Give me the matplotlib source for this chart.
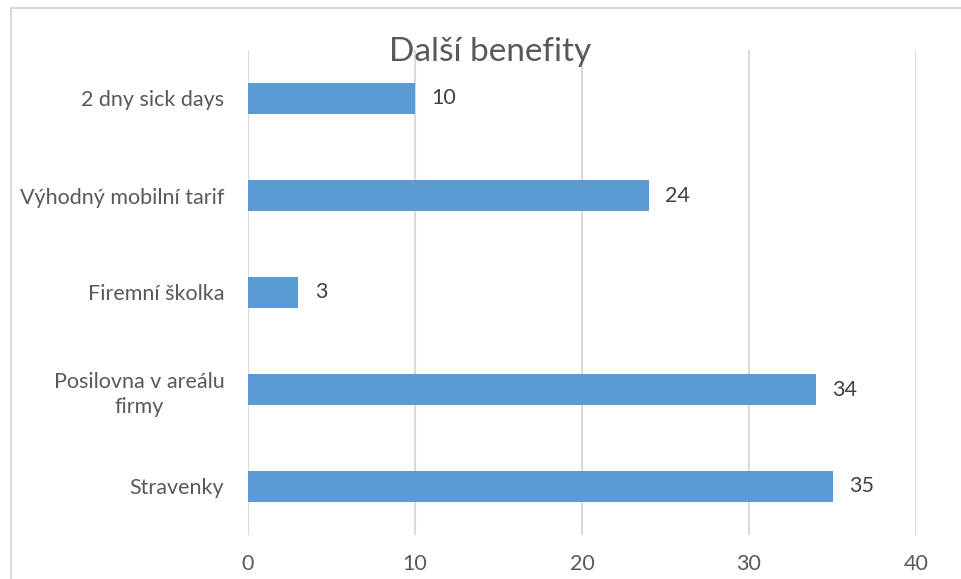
import matplotlib
matplotlib.use('Agg')
import matplotlib.pyplot as plt
from matplotlib.patches import Rectangle

categories = ['Stravenky', 'Posilovna v areálu\nfirmy', 'Firemní školka',
              'Výhodný mobilní tarif', '2 dny sick days']
values = [35, 34, 3, 24, 10]
x_ticks = [0, 10, 20, 30, 40]

text_color = '#595959'
bar_color = '#5b9bd5'
grid_color = '#d9d9d9'

plt.rcParams['font.family'] = ['Lato', 'DejaVu Sans']

fig = plt.figure(figsize=(9.61, 5.79), dpi=100)
ax = fig.add_axes([248/961, 1 - 535/579, (916 - 248)/961, (535 - 50)/579])

# outer chart border (cropped on right and bottom)
fig.patches.append(Rectangle((10.5/961, -0.2), 1.2, 1 - 7.5/579 + 0.2,
                             transform=fig.transFigure, fill=False,
                             edgecolor=grid_color, linewidth=1.5))

y_pos = range(len(categories))
bars = ax.barh(y_pos, values, height=0.31, color=bar_color, zorder=3)

for i, v in enumerate(values):
    ax.text(v + 1.0, i, str(v), va='center', ha='left',
            fontsize=15.5, color='#404040')

ax.set_xlim(0, 40)
ax.set_ylim(-0.5, len(categories) - 0.5)
ax.set_xticks(x_ticks)
ax.set_yticks(list(y_pos))
ax.set_yticklabels(categories, multialignment='center', linespacing=1.35)
ax.tick_params(axis='x', length=0, pad=14, labelsize=15.5, colors=text_color)
ax.tick_params(axis='y', length=0, pad=17, labelsize=15.5, colors=text_color)
ax.grid(axis='x', color=grid_color, linewidth=1.5, zorder=0)
for s in ax.spines.values():
    s.set_visible(False)

fig.text(490/961, 1 - 52/579, 'Další benefity', ha='center', va='center',
         fontsize=24, color=text_color)

fig.savefig('out.png', dpi=100)
